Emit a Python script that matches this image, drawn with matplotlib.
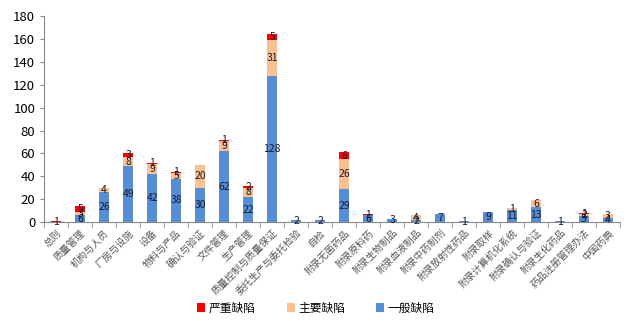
import numpy as np
import matplotlib.pyplot as plt

plt.rcParams['font.family'] = ['Noto Sans CJK SC', 'DejaVu Sans']

# Data
categories = ['总则', '质量管理', '机构与人员', '厂房与设施', '设备', '物料与产品',
              '确认与验证', '文件管理', '生产管理', '质量控制与质量保证',
              '委托生产与委托检验', '自检', '附录无菌药品', '附录原料药',
              '附录生物制品', '附录血液制品', '附录中药制剂', '附录放射性药品',
              '附录取样', '附录计算机化系统', '附录确认与验证', '附录生化药品',
              '药品注册管理办法', '中国药典']
general = [0, 6, 26, 49, 42, 38, 30, 62, 22, 128, 2, 2, 29, 6, 3, 2, 7, 1, 9, 11, 13, 1, 5, 4]
major   = [0, 3, 4, 8, 9, 5, 20, 9, 8, 31, 0, 0, 26, 0, 0, 4, 0, 0, 0, 1, 6, 0, 2, 3]
severe  = [1, 5, 0, 3, 1, 1, 0, 1, 2, 5, 0, 0, 6, 1, 0, 0, 0, 0, 0, 0, 0, 0, 1, 0]

c_general = '#558ED5'
c_major = '#FAC090'
c_severe = '#FF0000'

general = np.array(general)
major = np.array(major)
severe = np.array(severe)
x = np.arange(len(categories))
w = 0.42

fig = plt.figure(figsize=(6.32, 3.22), dpi=100)
ax = fig.add_axes([0.07, 0.31, 0.911, 0.64])

b1 = ax.bar(x, general, w, color=c_general, label='一般缺陷')
b2 = ax.bar(x, major, w, bottom=general, color=c_major, label='主要缺陷')
b3 = ax.bar(x, severe, w, bottom=general + major, color=c_severe, label='严重缺陷')

# segment value labels
for vals, bottoms in [(general, np.zeros_like(general)),
                      (major, general),
                      (severe, general + major)]:
    for xi, v, b in zip(x, vals, bottoms):
        if v > 0:
            ax.text(xi, b + v / 2, str(v), ha='center', va='center',
                    fontsize=7.5, color='#1a1a2e')

ax.set_xlim(-0.5, len(categories) - 0.5)
ax.set_ylim(0, 180)
ax.set_yticks(range(0, 181, 20))
ax.tick_params(axis='y', labelsize=9.5, length=3, color='#888888')
ax.set_xticks(x)
ax.set_xticklabels(categories, rotation=45, ha='right', rotation_mode='anchor',
                   fontsize=7, color='#555555')
ax.tick_params(axis='x', length=0, pad=4)
ax.set_xticks(np.arange(-0.5, len(categories), 1), minor=True)
ax.tick_params(axis='x', which='minor', length=4, color='#888888')

for s in ['top', 'right']:
    ax.spines[s].set_visible(False)
for s in ['left', 'bottom']:
    ax.spines[s].set_color('#888888')

handles = [b3, b2, b1]
fig.legend(handles, [h.get_label() for h in handles], loc='lower center',
           bbox_to_anchor=(0.5, -0.01), ncol=3, frameon=False, fontsize=8.5,
           handlelength=0.7, handleheight=0.7, columnspacing=2.6, handletextpad=0.3)

fig.savefig('out.png', dpi=100)
